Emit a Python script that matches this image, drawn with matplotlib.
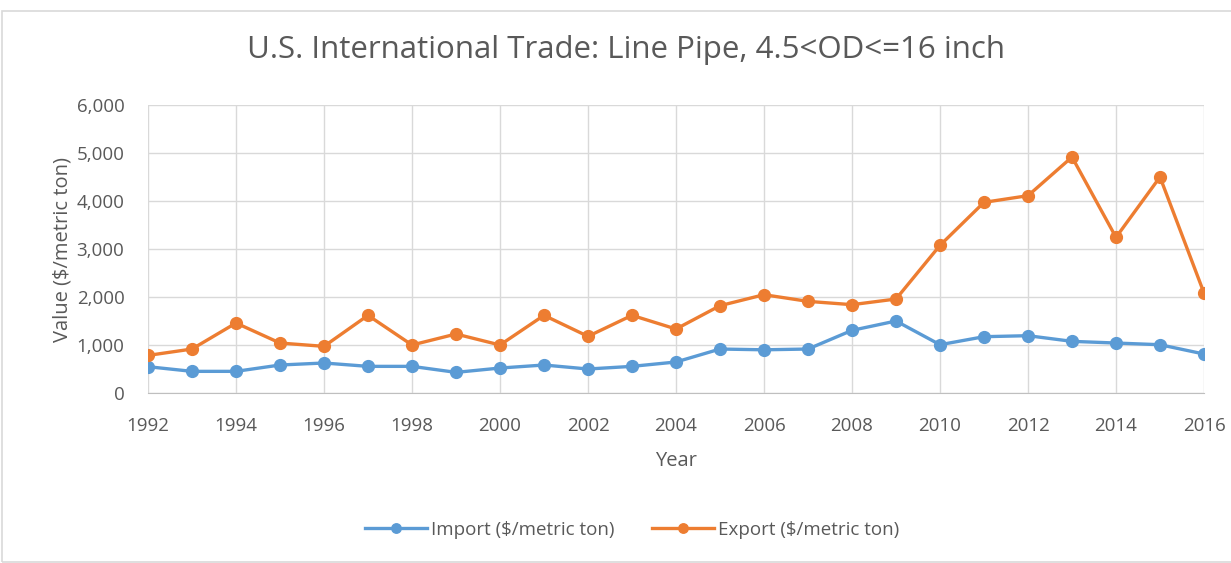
import matplotlib.pyplot as plt
from matplotlib.ticker import FuncFormatter
from matplotlib.patches import Rectangle

years = list(range(1992, 2017))
imports = [548, 451, 451, 583, 625, 555, 555, 430, 520, 583,
           500, 555, 646, 916, 900, 916, 1305, 1500, 1006, 1173,
           1194, 1076, 1041, 1006, 812]
exports = [783, 916, 1458, 1041, 972, 1618, 1000, 1229, 1000, 1618,
           1180, 1618, 1333, 1819, 2048, 1909, 1840, 1958, 3076, 3972,
           4111, 4916, 3243, 4500, 2083]

plt.rcParams['font.family'] = ['Open Sans', 'DejaVu Sans']
grey = '#595959'

fig = plt.figure(figsize=(12.31, 5.63), dpi=100)
ax = fig.add_axes([148/1231, 1-393/563, (1204-148)/1231, (393-105)/563])

# light frame around the chart
fig.patches.append(Rectangle((2/1231, 0.002), 1.1, 1-12/563, transform=fig.transFigure,
                             fill=False, edgecolor='#d9d9d9', lw=1.2))

ax.plot(years, imports, color='#5B9BD5', lw=2.4, marker='o', ms=8.5, label='Import ($/metric ton)')
ax.plot(years, exports, color='#ED7D31', lw=2.4, marker='o', ms=8.5, label='Export ($/metric ton)')

ax.set_xlim(1992, 2016)
ax.set_ylim(0, 6000)
ax.set_xticks(range(1992, 2017, 2))
ax.set_yticks(range(0, 6001, 1000))
ax.yaxis.set_major_formatter(FuncFormatter(lambda v, p: f'{int(v):,}'))
ax.grid(True, color='#d9d9d9', lw=1)
ax.set_axisbelow(True)
for s in ['top', 'right', 'left']:
    ax.spines[s].set_visible(False)
ax.spines['bottom'].set_color('#bfbfbf')
ax.tick_params(length=0, labelsize=13.5, labelcolor=grey)
ax.tick_params(axis='y', pad=17)
ax.tick_params(axis='x', pad=17)

ax.set_xlabel('Year', fontsize=14.5, color=grey, labelpad=12)
ax.set_ylabel('Value ($/metric ton)', fontsize=14.5, color=grey, labelpad=3)
fig.text(626/1231, 1-50/563, 'U.S. International Trade: Line Pipe, 4.5<OD<=16 inch',
         ha='center', va='center', fontsize=22.5, color=grey)

fig.legend(loc='center', bbox_to_anchor=(632/1231, 1-530/563), ncol=2, frameon=False,
           fontsize=13.5, labelcolor=grey, handlelength=3.3, markerscale=0.8,
           columnspacing=2.0, handletextpad=0.2)

fig.savefig('out.png', dpi=100)
